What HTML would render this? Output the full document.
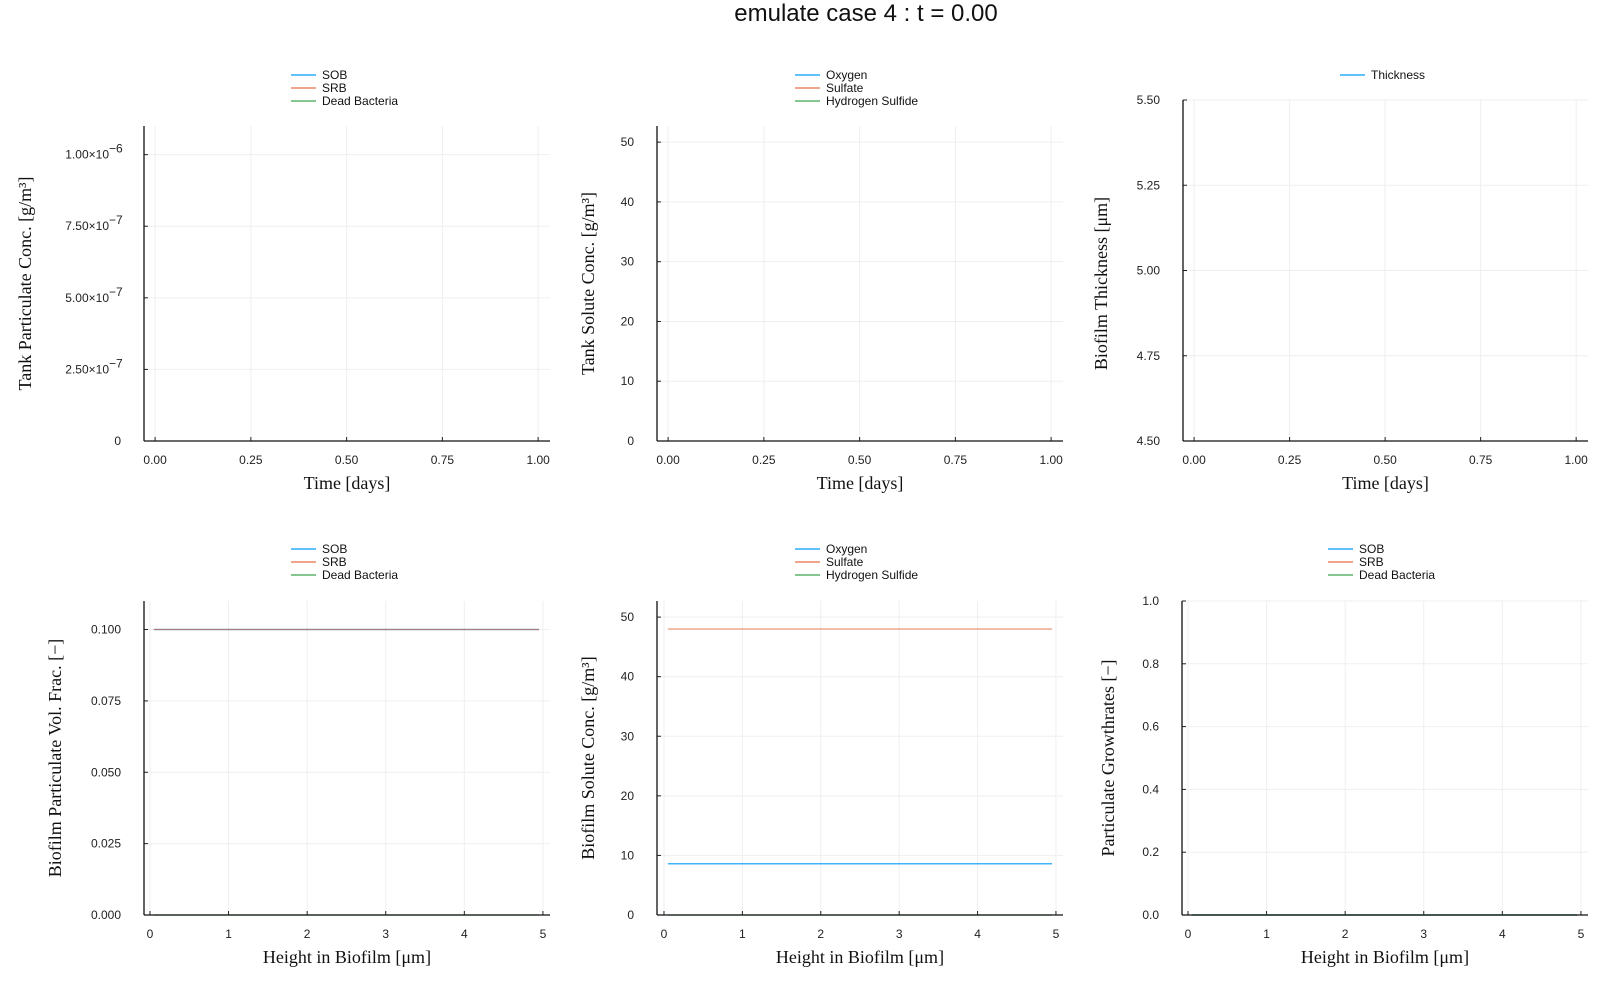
<!DOCTYPE html>
<html><head><meta charset="utf-8"><style>
body{margin:0;background:#fff}
svg{display:block}
.tk{font-family:"Liberation Sans","DejaVu Sans",sans-serif;font-size:12px;fill:#222}
.lg{font-family:"Liberation Sans","DejaVu Sans",sans-serif;font-size:12px;fill:#111}
.al{font-family:"Liberation Serif",serif;font-size:18px;fill:#111}
</style></head><body>
<svg id="fig" width="1600" height="1000" xmlns="http://www.w3.org/2000/svg">
<rect width="1600" height="1000" fill="#fff"/>
<text x="866" y="21" text-anchor="middle" font-family="Liberation Sans, sans-serif" font-size="24" fill="#111">emulate case 4 : t = 0.00</text>
</svg>
<script>
// Data
const heightX = [];
for (let i = 0; i < 50; i++) heightX.push(0.05 + i * 0.1);
const bioSOBfrac = 0.100;
const bioSRBfrac = 0.100;
const bioDeadFrac = 0.0;
const bioOxygen = 8.6;
const bioSulfate = 48.0;
const bioH2S = 0.0;
const growthSOB = 0.0;
const growthSRB = 0.0;
const growthDead = 0.0;
const timeTicks = [0, 0.25, 0.5, 0.75, 1.0];
const timeTickLabels = ["0.00", "0.25", "0.50", "0.75", "1.00"];
const heightTicks = [0, 1, 2, 3, 4, 5];
const heightTickLabels = ["0", "1", "2", "3", "4", "5"];
const p1Ticks = [0, 2.5e-7, 5e-7, 7.5e-7, 1e-6];
const p1Mant = ["0", "2.50×10", "5.00×10", "7.50×10", "1.00×10"];
const p1Exp = ["", "−7", "−7", "−7", "−6"];
const p2Ticks = [0, 10, 20, 30, 40, 50];
const p3Ticks = [4.5, 4.75, 5.0, 5.25, 5.5];
const p3Labels = ["4.50", "4.75", "5.00", "5.25", "5.50"];
const p4Ticks = [0, 0.025, 0.05, 0.075, 0.1];
const p4Labels = ["0.000", "0.025", "0.050", "0.075", "0.100"];
const p6Ticks = [0, 0.2, 0.4, 0.6, 0.8, 1.0];
const p6Labels = ["0.0", "0.2", "0.4", "0.6", "0.8", "1.0"];

const C = {blue:"#009AFA", orange:"#E36F47", green:"#3EA44E"};
const svg = document.getElementById('fig');
const NS = "http://www.w3.org/2000/svg";
function mk(tag, attrs, parent) {
  const e = document.createElementNS(NS, tag);
  for (const k in attrs) e.setAttribute(k, attrs[k]);
  (parent || svg).appendChild(e);
  return e;
}
const panels = [
 {name:"tank-particulate", L:144,R:550,T:126,B:441, xmin:-0.029,xmax:1.031, ymin:0,ymax:1.1e-6, xt:timeTicks, xl:timeTickLabels, yt:p1Ticks, yl:p1Mant, ye:p1Exp,
  xlab:"Time [days]", ylab:"Tank Particulate Conc. [g/m³]", ylx:26, leg:["SOB","SRB","Dead Bacteria"], legx:291, legy:75, series:[]},
 {name:"tank-solute", L:657,R:1063,T:126,B:441, xmin:-0.029,xmax:1.031, ymin:0,ymax:52.7, xt:timeTicks, xl:timeTickLabels, yt:p2Ticks, yl:p2Ticks.map(String),
  xlab:"Time [days]", ylab:"Tank Solute Conc. [g/m³]", ylx:589, leg:["Oxygen","Sulfate","Hydrogen Sulfide"], legx:795, legy:75, series:[]},
 {name:"biofilm-thickness", L:1183,R:1588,T:100,B:441, xmin:-0.029,xmax:1.031, ymin:4.5,ymax:5.5, xt:timeTicks, xl:timeTickLabels, yt:p3Ticks, yl:p3Labels,
  xlab:"Time [days]", ylab:"Biofilm Thickness [μm]", ylx:1102, leg:["Thickness"], legx:1340, legy:75, series:[]},
 {name:"biofilm-particulate", L:144,R:550,T:601,B:915, xmin:-0.076,xmax:5.09, ymin:0,ymax:0.11, xt:heightTicks, xl:heightTickLabels, yt:p4Ticks, yl:p4Labels,
  xlab:"Height in Biofilm [μm]", ylab:"Biofilm Particulate Vol.  Frac. [−]", ylx:56, leg:["SOB","SRB","Dead Bacteria"], legx:291, legy:549,
  series:[heightX.map(()=>bioSOBfrac), heightX.map(()=>bioSRBfrac), heightX.map(()=>bioDeadFrac)]},
 {name:"biofilm-solute", L:657,R:1063,T:601,B:915, xmin:-0.089,xmax:5.09, ymin:0,ymax:52.7, xt:heightTicks, xl:heightTickLabels, yt:p2Ticks, yl:p2Ticks.map(String),
  xlab:"Height in Biofilm [μm]", ylab:"Biofilm Solute Conc. [g/m³]", ylx:589, leg:["Oxygen","Sulfate","Hydrogen Sulfide"], legx:795, legy:549,
  series:[heightX.map(()=>bioOxygen), heightX.map(()=>bioSulfate), heightX.map(()=>bioH2S)]},
 {name:"particulate-growthrates", L:1182,R:1588,T:601,B:915, xmin:-0.076,xmax:5.09, ymin:0,ymax:1.0, xt:heightTicks, xl:heightTickLabels, yt:p6Ticks, yl:p6Labels,
  xlab:"Height in Biofilm [μm]", ylab:"Particulate Growthrates [−]", ylx:1109, leg:["SOB","SRB","Dead Bacteria"], legx:1328, legy:549,
  series:[heightX.map(()=>growthSOB), heightX.map(()=>growthSRB), heightX.map(()=>growthDead)]}
];
const colors = [C.blue, C.orange, C.green];
panels.forEach(p => {
  const g = mk('g', {});
  
  
  const sx = v => p.L + (v - p.xmin) / (p.xmax - p.xmin) * (p.R - p.L);
  const sy = v => p.B - (v - p.ymin) / (p.ymax - p.ymin) * (p.B - p.T);
  p.xt.forEach((v, i) => {
    const x = sx(v);
    const gl = mk('line', {x1:x,x2:x,y1:p.T,y2:p.B,stroke:'#efefef','stroke-width':1}, g);
    
    
    mk('line', {x1:x,x2:x,y1:p.B,y2:p.B-4,stroke:'#222','stroke-width':1}, g);
    const t = mk('text', {x:x,y:p.B+23,'text-anchor':'middle',class:'tk'}, g);
    t.textContent = p.xl[i];
    
    
  });
  p.yt.forEach((v, i) => {
    const y = sy(v);
    const gl = mk('line', {x1:p.L,x2:p.R,y1:y,y2:y,stroke:'#efefef','stroke-width':1}, g);
    
    
    mk('line', {x1:p.L,x2:p.L+4,y1:y,y2:y,stroke:'#222','stroke-width':1}, g);
    const t = mk('text', {x:p.L-23,y:y+4,'text-anchor':'end',class:'tk'}, g);
    
    
    if (p.ye && p.ye[i]) {
      t.setAttribute('x', p.L - 35);
      t.textContent = p.yl[i];
      const e = mk('text', {x:p.L-35,y:y-2,'text-anchor':'start',class:'tk'}, g);
      e.setAttribute('font-size','9');
      e.textContent = p.ye[i];
      
      
    } else {
      t.textContent = p.yl[i];
    }
  });
  p.series.forEach((s, k) => {
    const pts = s.map((v, i) => sx(heightX[i]).toFixed(1) + ',' + sy(v).toFixed(1)).join(' ');
    const pl = mk('polyline', {points:pts,fill:'none',stroke:colors[k],'stroke-width':1.2,'stroke-opacity':k==1?0.75:1}, g);
    
    
  });
  mk('line', {x1:p.L,x2:p.L,y1:p.T,y2:p.B,stroke:'#111','stroke-width':1.3}, g);
  mk('line', {x1:p.L,x2:p.R,y1:p.B,y2:p.B,stroke:'#111','stroke-width':1.3}, g);
  const xl = mk('text', {x:(p.L+p.R)/2,y:p.B+48,'text-anchor':'middle',class:'al'}, g);
  xl.textContent = p.xlab;
  
  
  const cy = (p.T + p.B) / 2 + (p.T < 110 ? 13 : 0);
  const yl = mk('text', {x:p.ylx,y:cy,'text-anchor':'middle',class:'al',transform:`rotate(-90 ${p.ylx} ${cy})`,dy:'5'}, g);
  yl.textContent = p.ylab;
  
  
  p.leg.forEach((name, k) => {
    const y = p.legy + k * 13;
    const lg = mk('g', {}, g);
    
    
    mk('line', {x1:p.legx,x2:p.legx+25,y1:y,y2:y,stroke:colors[k],'stroke-width':1.3}, lg);
    const t = mk('text', {x:p.legx+31,y:y+4,class:'lg'}, lg);
    t.textContent = name;
  });
});
</script>
</body></html>
